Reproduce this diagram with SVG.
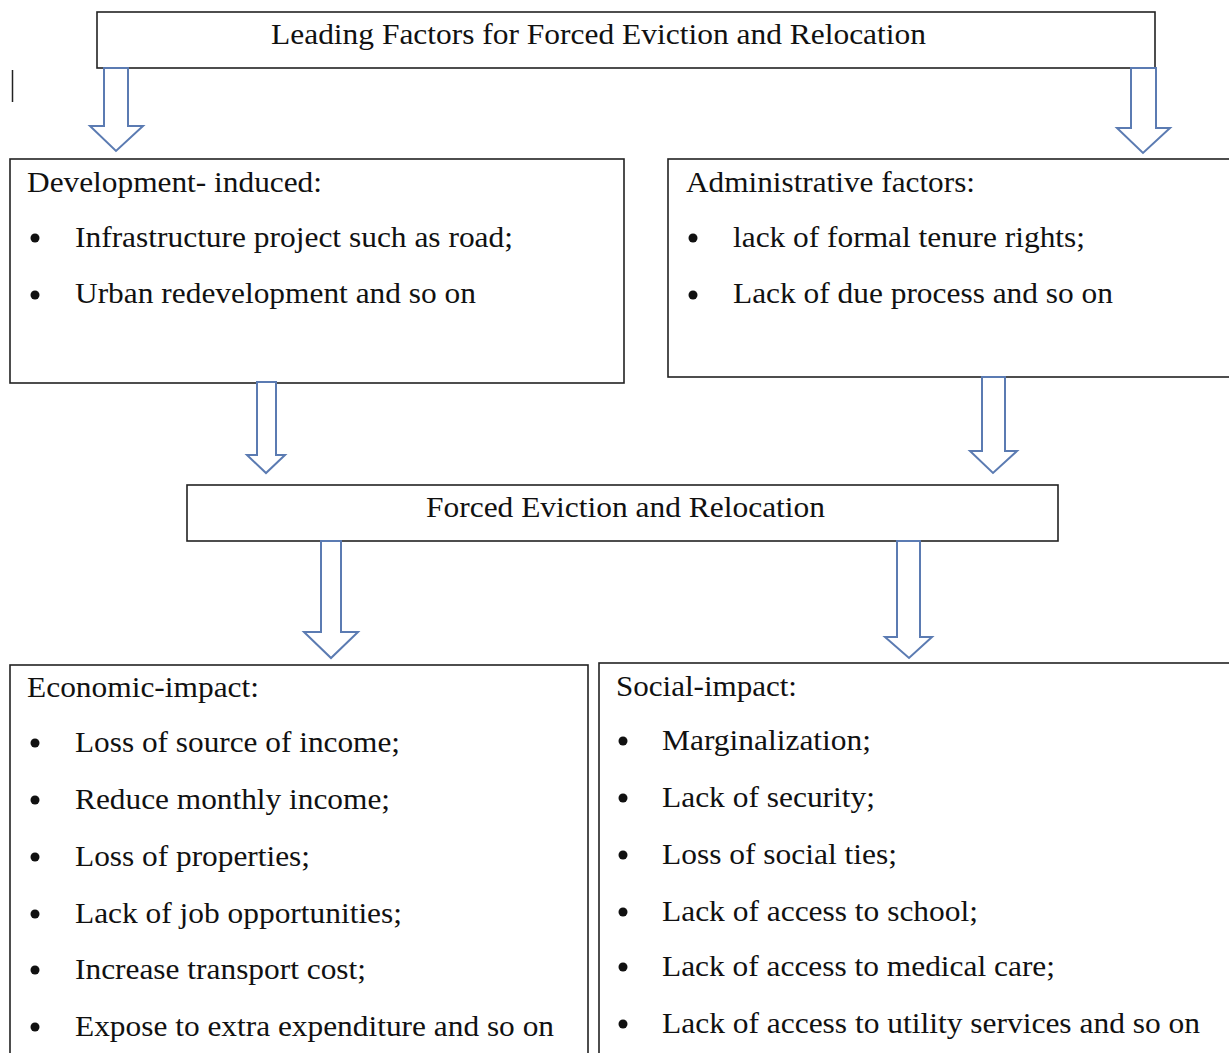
<svg xmlns="http://www.w3.org/2000/svg" width="1229" height="1053" viewBox="0 0 1229 1053">
<style>
.box{fill:#fff;stroke:#222;stroke-width:1.6}
.arr{fill:#fff;stroke:#5b7bb2;stroke-width:2;stroke-linejoin:miter}
text{font-family:"Liberation Serif","Times New Roman",serif;font-size:29px;fill:#111}
.b{fill:#111}
</style>
<rect width="1229" height="1053" fill="#fff"/>
<g id="node-top">
<rect class="box" x="97" y="12" width="1058" height="56"/>
<text x="271" y="44" textLength="655" lengthAdjust="spacingAndGlyphs">Leading Factors for Forced Eviction and Relocation</text>
</g>
<line x1="12.5" y1="70" x2="12.5" y2="102" stroke="#222" stroke-width="1.5"/>
<g id="node-dev">
<rect class="box" x="10" y="159" width="614" height="224"/>
<text x="27" y="192" textLength="295" lengthAdjust="spacingAndGlyphs">Development- induced:</text>
<circle class="b" cx="35" cy="238" r="4.5"/>
<text x="75" y="247" textLength="438" lengthAdjust="spacingAndGlyphs">Infrastructure project such as road;</text>
<circle class="b" cx="35" cy="295" r="4.5"/>
<text x="75" y="303" textLength="401" lengthAdjust="spacingAndGlyphs">Urban redevelopment and so on</text>
</g>
<g id="node-admin">
<rect class="box" x="668" y="159" width="570" height="218"/>
<text x="686" y="192" textLength="289" lengthAdjust="spacingAndGlyphs">Administrative factors:</text>
<circle class="b" cx="693" cy="238" r="4.5"/>
<text x="733" y="247" textLength="352" lengthAdjust="spacingAndGlyphs">lack of formal tenure rights;</text>
<circle class="b" cx="693" cy="295" r="4.5"/>
<text x="733" y="303" textLength="380" lengthAdjust="spacingAndGlyphs">Lack of due process and so on</text>
</g>
<g id="node-mid">
<rect class="box" x="187" y="485" width="871" height="56"/>
<text x="426" y="517" textLength="399" lengthAdjust="spacingAndGlyphs">Forced Eviction and Relocation</text>
</g>
<g id="node-econ">
<rect class="box" x="10" y="665" width="578" height="400" stroke-width="2"/>
<text x="27" y="697" textLength="232" lengthAdjust="spacingAndGlyphs">Economic-impact:</text>
<circle class="b" cx="35" cy="743" r="4.5"/>
<text x="75" y="752" textLength="325" lengthAdjust="spacingAndGlyphs">Loss of source of income;</text>
<circle class="b" cx="35" cy="800" r="4.5"/>
<text x="75" y="809" textLength="315" lengthAdjust="spacingAndGlyphs">Reduce monthly income;</text>
<circle class="b" cx="35" cy="857" r="4.5"/>
<text x="75" y="866" textLength="235" lengthAdjust="spacingAndGlyphs">Loss of properties;</text>
<circle class="b" cx="35" cy="914" r="4.5"/>
<text x="75" y="923" textLength="327" lengthAdjust="spacingAndGlyphs">Lack of job opportunities;</text>
<circle class="b" cx="35" cy="970" r="4.5"/>
<text x="75" y="979" textLength="291" lengthAdjust="spacingAndGlyphs">Increase transport cost;</text>
<circle class="b" cx="35" cy="1027" r="4.5"/>
<text x="75" y="1036" textLength="479" lengthAdjust="spacingAndGlyphs">Expose to extra expenditure and so on</text>
</g>
<g id="node-social">
<rect class="box" x="599" y="663" width="640" height="400" stroke-width="2"/>
<text x="616" y="696" textLength="181" lengthAdjust="spacingAndGlyphs">Social-impact:</text>
<circle class="b" cx="623" cy="741" r="4.5"/>
<text x="662" y="750" textLength="209" lengthAdjust="spacingAndGlyphs">Marginalization;</text>
<circle class="b" cx="623" cy="798" r="4.5"/>
<text x="662" y="807" textLength="213" lengthAdjust="spacingAndGlyphs">Lack of security;</text>
<circle class="b" cx="623" cy="855" r="4.5"/>
<text x="662" y="864" textLength="235" lengthAdjust="spacingAndGlyphs">Loss of social ties;</text>
<circle class="b" cx="623" cy="912" r="4.5"/>
<text x="662" y="921" textLength="316" lengthAdjust="spacingAndGlyphs">Lack of access to school;</text>
<circle class="b" cx="623" cy="967" r="4.5"/>
<text x="662" y="976" textLength="393" lengthAdjust="spacingAndGlyphs">Lack of access to medical care;</text>
<circle class="b" cx="623" cy="1024" r="4.5"/>
<text x="662" y="1033" textLength="538" lengthAdjust="spacingAndGlyphs">Lack of access to utility services and so on</text>
</g>
<g id="connectors">
<path class="arr" d="M104,68 H128 V126 H143 L116,151 L90,126 H104 Z"/>
<path class="arr" d="M1131,68 H1156 V128 H1170 L1143,153 L1117,128 H1131 Z"/>
<path class="arr" d="M257,382 H276 V455 H285 L266,473 L247,455 H257 Z"/>
<path class="arr" d="M982,377 H1005 V451 H1017 L993,473 L970,451 H982 Z"/>
<path class="arr" d="M321,541 H341 V632 H358 L331,658 L304,632 H321 Z"/>
<path class="arr" d="M897,541 H920 V637 H932 L909,658 L885,637 H897 Z"/>
</g>
</svg>
